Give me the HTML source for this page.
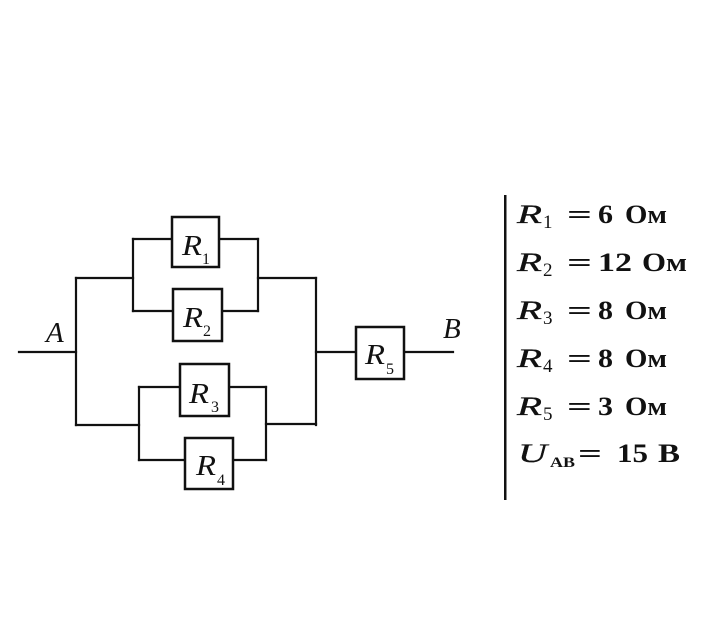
<!DOCTYPE html>
<html>
<head>
<meta charset="utf-8">
<style>
  html, body { margin: 0; padding: 0; background: #ffffff; }
  svg { display: block; }
  text { font-family: "Liberation Serif", "DejaVu Serif", serif; fill: #111; }
</style>
</head>
<body>
<svg width="720" height="638" viewBox="0 0 720 638" xmlns="http://www.w3.org/2000/svg">
  <g stroke="#111" stroke-width="2.2" fill="none" stroke-linecap="square">
    <!-- input A -->
    <path d="M19 352 H76"/>
    <path d="M76 278 V425"/>
    <!-- top pair -->
    <path d="M76 278 H133"/>
    <path d="M133 239 V311"/>
    <path d="M133 239 H172"/>
    <path d="M133 311 H173"/>
    <path d="M219 239 H258"/>
    <path d="M222 311 H258"/>
    <path d="M258 239 V311"/>
    <path d="M258 278 H316"/>
    <!-- bottom pair -->
    <path d="M76 425 H139"/>
    <path d="M139 387 V460"/>
    <path d="M139 387 H180"/>
    <path d="M139 460 H185"/>
    <path d="M229 387 H266"/>
    <path d="M233 460 H266"/>
    <path d="M266 387 V460"/>
    <path d="M266 424 H316"/>
    <!-- merge -->
    <path d="M316 278 V425"/>
    <path d="M316 352 H356"/>
    <path d="M404 352 H453"/>
  </g>
  <g stroke="#111" stroke-width="2.5" fill="#fff">
    <rect x="172" y="217" width="47" height="50"/>
    <rect x="173" y="289" width="49" height="52"/>
    <rect x="180" y="364" width="49" height="52"/>
    <rect x="185" y="438" width="48" height="51"/>
    <rect x="356" y="327" width="48" height="52"/>
  </g>

  <!-- box labels -->
  <text x="182" y="255" font-size="28" font-style="italic" textLength="20" lengthAdjust="spacingAndGlyphs">R</text>
  <text x="202" y="264" font-size="16">1</text>
  <text x="183" y="327" font-size="28" font-style="italic" textLength="20" lengthAdjust="spacingAndGlyphs">R</text>
  <text x="203" y="336" font-size="16">2</text>
  <text x="189" y="403" font-size="28" font-style="italic" textLength="20" lengthAdjust="spacingAndGlyphs">R</text>
  <text x="211" y="412" font-size="16">3</text>
  <text x="196" y="475" font-size="28" font-style="italic" textLength="20" lengthAdjust="spacingAndGlyphs">R</text>
  <text x="217" y="485" font-size="16">4</text>
  <text x="365" y="364" font-size="28" font-style="italic" textLength="20" lengthAdjust="spacingAndGlyphs">R</text>
  <text x="386" y="374" font-size="16">5</text>

  <!-- node labels -->
  <text x="46" y="342" font-size="29" font-style="italic">A</text>
  <text x="443" y="338" font-size="29" font-style="italic">B</text>

  <!-- data column -->
  <rect x="504" y="195" width="2.5" height="305" fill="#111"/>

  <g>
    <!-- R1 -->
    <text x="517" y="223" font-size="26" font-style="italic" stroke="#111" stroke-width="0.3" textLength="25" lengthAdjust="spacingAndGlyphs">R</text>
    <text x="543" y="228" font-size="19">1</text>
    <text x="567" y="223" font-size="26" font-weight="bold" textLength="25" lengthAdjust="spacingAndGlyphs">=</text>
    <text x="598" y="223" font-size="26" font-weight="bold" textLength="15" lengthAdjust="spacingAndGlyphs">6</text>
    <text x="625" y="223" font-size="26" font-weight="bold" textLength="42" lengthAdjust="spacingAndGlyphs">Ом</text>
    <!-- R2 -->
    <text x="517" y="271" font-size="26" font-style="italic" stroke="#111" stroke-width="0.3" textLength="25" lengthAdjust="spacingAndGlyphs">R</text>
    <text x="543" y="276" font-size="19">2</text>
    <text x="567" y="271" font-size="26" font-weight="bold" textLength="25" lengthAdjust="spacingAndGlyphs">=</text>
    <text x="598" y="271" font-size="26" font-weight="bold" textLength="34" lengthAdjust="spacingAndGlyphs">12</text>
    <text x="642" y="271" font-size="26" font-weight="bold" textLength="45" lengthAdjust="spacingAndGlyphs">Ом</text>
    <!-- R3 -->
    <text x="517" y="319" font-size="26" font-style="italic" stroke="#111" stroke-width="0.3" textLength="25" lengthAdjust="spacingAndGlyphs">R</text>
    <text x="543" y="324" font-size="19">3</text>
    <text x="567" y="319" font-size="26" font-weight="bold" textLength="25" lengthAdjust="spacingAndGlyphs">=</text>
    <text x="598" y="319" font-size="26" font-weight="bold" textLength="15" lengthAdjust="spacingAndGlyphs">8</text>
    <text x="625" y="319" font-size="26" font-weight="bold" textLength="42" lengthAdjust="spacingAndGlyphs">Ом</text>
    <!-- R4 -->
    <text x="517" y="367" font-size="26" font-style="italic" stroke="#111" stroke-width="0.3" textLength="25" lengthAdjust="spacingAndGlyphs">R</text>
    <text x="543" y="372" font-size="19">4</text>
    <text x="567" y="367" font-size="26" font-weight="bold" textLength="25" lengthAdjust="spacingAndGlyphs">=</text>
    <text x="598" y="367" font-size="26" font-weight="bold" textLength="15" lengthAdjust="spacingAndGlyphs">8</text>
    <text x="625" y="367" font-size="26" font-weight="bold" textLength="42" lengthAdjust="spacingAndGlyphs">Ом</text>
    <!-- R5 -->
    <text x="517" y="415" font-size="26" font-style="italic" stroke="#111" stroke-width="0.3" textLength="25" lengthAdjust="spacingAndGlyphs">R</text>
    <text x="543" y="420" font-size="19">5</text>
    <text x="567" y="415" font-size="26" font-weight="bold" textLength="25" lengthAdjust="spacingAndGlyphs">=</text>
    <text x="598" y="415" font-size="26" font-weight="bold" textLength="15" lengthAdjust="spacingAndGlyphs">3</text>
    <text x="625" y="415" font-size="26" font-weight="bold" textLength="42" lengthAdjust="spacingAndGlyphs">Ом</text>
    <!-- U_AB -->
    <text x="518" y="462" font-size="26" font-style="italic" stroke="#111" stroke-width="0.3" textLength="29" lengthAdjust="spacingAndGlyphs">U</text>
    <text x="550" y="467" font-size="15" font-weight="bold" textLength="25" lengthAdjust="spacingAndGlyphs">AB</text>
    <text x="578" y="462" font-size="26" font-weight="bold" textLength="24" lengthAdjust="spacingAndGlyphs">=</text>
    <text x="617" y="462" font-size="26" font-weight="bold" textLength="31" lengthAdjust="spacingAndGlyphs">15</text>
    <text x="658" y="462" font-size="26" font-weight="bold" textLength="22" lengthAdjust="spacingAndGlyphs">В</text>
  </g>
</svg>
</body>
</html>
